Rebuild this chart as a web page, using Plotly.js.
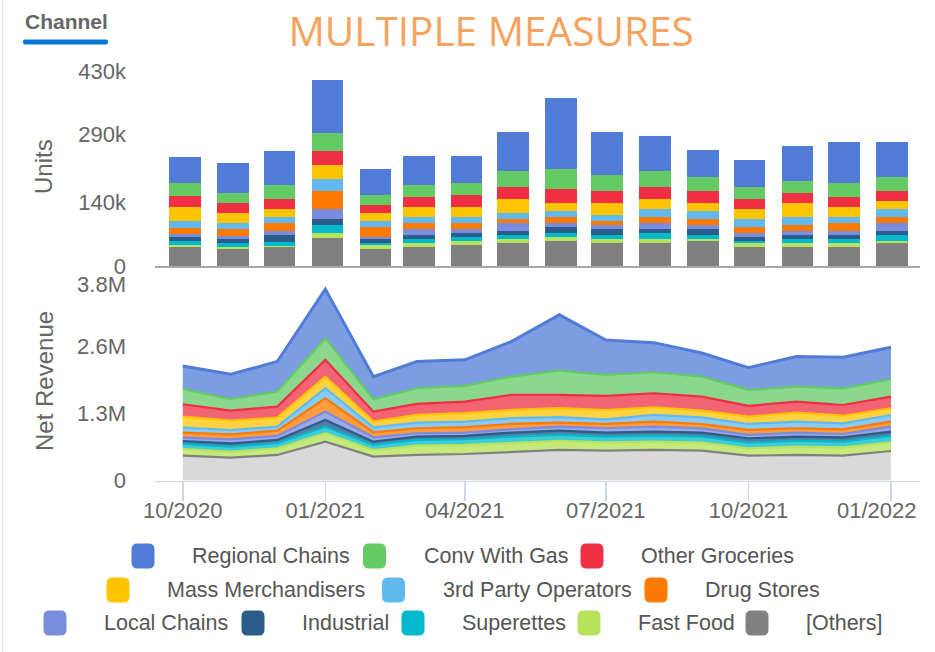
<!DOCTYPE html>
<html><head><meta charset="utf-8">
<script src="https://cdn.plot.ly/plotly-3.0.1.min.js"></script>
<style>html,body{margin:0;padding:0;background:#fff}#chart{width:935px;height:652px}</style>
</head><body><div id="chart"></div><script>
// ---------- DATA ----------
const months = ['2020-10-01','2020-11-01','2020-12-01','2021-01-01','2021-02-01','2021-03-01','2021-04-01','2021-05-01','2021-06-01','2021-07-01','2021-08-01','2021-09-01','2021-10-01','2021-11-01','2021-12-01','2022-01-01'];
const channels = ['Regional Chains','Conv With Gas','Other Groceries','Mass Merchandisers','3rd Party Operators','Drug Stores','Local Chains','Industrial','Superettes','Fast Food','[Others]'];

// Units by channel
const unitsRegionalChains = [57600,67200,76100,116000,58400,62800,58400,84200,155900,93800,76100,58400,58400,76100,89400,76100];
const unitsConvWithGas    = [27300,22200,31000,39100,22200,26600,26600,35500,44300,35500,35500,31000,26600,26600,31000,31000];
const unitsOtherGroceries = [25900,22200,22200,32500,17700,22200,26600,27300,31000,26600,26600,26600,22200,22200,22200,22200];
const unitsMassMerch      = [31000,22200,17700,30300,17700,22200,22200,31000,17700,26600,22200,17700,22200,31000,22200,17700];
const unitsThirdParty     = [13300,13300,13300,26600,12600,13300,13300,13300,13300,13300,17700,17700,17700,17700,13300,17700];
const unitsDrugStores     = [13300,13300,17700,39900,22900,13300,13300,8900,13300,8900,13300,13300,13300,13300,17700,13300];
const unitsLocalChains    = [7400,8100,8900,22200,4400,13300,8900,17700,8900,8900,13300,8900,8900,8900,8900,17700];
const unitsIndustrial     = [9600,8900,13300,13300,8100,8900,8900,8900,13300,13300,8900,13300,8900,8900,8900,8900];
const unitsSuperettes     = [8100,8900,8900,17700,5200,8900,8900,8900,8900,8900,13300,8900,4400,8900,8900,13300];
const unitsFastFood       = [4400,4400,3700,8900,8900,8900,8900,8900,8900,8900,8900,4400,8900,8900,8900,4400];
const unitsOthers         = [42100,36900,41400,62800,36900,41400,45800,50200,54700,50200,50200,54700,41400,41400,41400,50200];

// Net revenue by channel
const revRegionalChains = [446000,479000,582000,951000,438000,516000,504000,679000,1081000,679000,574000,460000,433000,582000,601000,621000];
const revConvWithGas    = [297000,227000,291000,421000,241000,305000,305000,355000,471000,407000,407000,388000,310000,291000,324000,338000];
const revOtherGroceries = [241000,194000,213000,324000,194000,213000,225000,291000,258000,272000,272000,272000,208000,213000,208000,225000];
const revMassMerch      = [213000,180000,175000,225000,109000,149000,163000,161000,175000,180000,149000,128000,142000,175000,147000,130000];
const revThirdParty     = [97000,83000,78000,194000,97000,109000,109000,111000,105000,91000,130000,130000,116000,128000,116000,130000];
const revDrugStores     = [97000,97000,103000,260000,97000,97000,105000,103000,78000,83000,97000,83000,97000,85000,91000,97000];
const revLocalChains    = [64000,78000,78000,161000,85000,66000,64000,66000,78000,85000,97000,85000,64000,78000,64000,97000];
const revIndustrial     = [58000,66000,64000,130000,64000,64000,64000,78000,83000,78000,83000,78000,85000,78000,85000,83000];
const revSuperettes     = [97000,97000,97000,128000,97000,111000,111000,116000,116000,109000,111000,116000,109000,116000,109000,122000];
const revFastFood       = [130000,116000,130000,163000,130000,180000,175000,175000,175000,163000,161000,155000,144000,161000,163000,169000];
const revOthers         = [481000,442000,495000,753000,462000,495000,514000,559000,592000,578000,592000,578000,481000,495000,481000,572000];

const unitTickVals = [0,140000,290000,430000];
const unitTickText = ['0','140k','290k','430k'];
const revTickVals  = [0,1300000,2600000,3800000];
const revTickText  = ['0','1.3M','2.6M','3.8M'];
const xTickDates   = ['2020-10-01','2021-01-01','2021-04-01','2021-07-01','2021-10-01','2022-01-01'];
const xTickLabels  = ['10/2020','01/2021','04/2021','07/2021','10/2021','01/2022'];

// ---------- STYLE ----------
const unitsSeries = [unitsRegionalChains,unitsConvWithGas,unitsOtherGroceries,unitsMassMerch,unitsThirdParty,unitsDrugStores,unitsLocalChains,unitsIndustrial,unitsSuperettes,unitsFastFood,unitsOthers];
const revSeries = [revRegionalChains,revConvWithGas,revOtherGroceries,revMassMerch,revThirdParty,revDrugStores,revLocalChains,revIndustrial,revSuperettes,revFastFood,revOthers];
const colors = ['#507CD8','#64CA64','#EE2F44','#FFC400','#62B9F0','#FF7A00','#7A8CDD','#2B5C8A','#00B9CC','#B6E35B','#808080'];
const fills  = ['rgba(80,124,216,0.75)','rgba(100,202,100,0.75)','rgba(238,47,68,0.75)','rgba(255,196,0,0.75)','rgba(98,185,240,0.75)','rgba(255,122,0,0.75)','rgba(122,140,221,0.75)','rgba(43,92,138,0.8)','rgba(0,185,204,0.75)','rgba(182,227,91,0.8)','#D9D9D9'];

const W = 935, H = 652;
const px = x => x / W, py = y => 1 - y / H;
const DAY = 86400000;

const traces = [];
for (let i = channels.length - 1; i >= 0; i--) {
  traces.push({
    type: 'bar', x: months, y: unitsSeries[i], name: channels[i],
    xaxis: 'x2', yaxis: 'y2', width: 20.5 * DAY,
    marker: {color: colors[i], line: {width: 0}}, showlegend: false, hoverinfo: 'skip'
  });
}
for (let i = channels.length - 1; i >= 0; i--) {
  traces.push({
    type: 'scatter', mode: 'lines', x: months, y: revSeries[i], name: channels[i],
    xaxis: 'x', yaxis: 'y', stackgroup: 'rev',
    line: {color: colors[i], width: i === 0 ? 3 : 2.2}, fillcolor: fills[i],
    showlegend: false, hoverinfo: 'skip'
  });
}

const tickFont = {family: 'Liberation Sans, Arial, sans-serif', size: 22, color: '#666666'};

// custom legend
const legendRows = [[0,1,2],[3,4,5],[6,7,8,9,10]];
const legendRowY = [556, 590, 623];
const legendMarkerX = [[143,374.5,592],[118,393.5,656],[55,253,413,589,757]];
const legendTextGap = 47;
function roundRect(cx, cy, w, h, r) {
  const x0 = cx - w/2, x1 = cx + w/2, y0 = cy - h/2, y1 = cy + h/2;
  const P = (x, y) => px(x).toFixed(5) + ',' + py(y).toFixed(5);
  return 'M' + P(x0+r,y0) + ' L' + P(x1-r,y0) + ' Q' + P(x1,y0) + ' ' + P(x1,y0+r) +
         ' L' + P(x1,y1-r) + ' Q' + P(x1,y1) + ' ' + P(x1-r,y1) +
         ' L' + P(x0+r,y1) + ' Q' + P(x0,y1) + ' ' + P(x0,y1-r) +
         ' L' + P(x0,y0+r) + ' Q' + P(x0,y0) + ' ' + P(x0+r,y0) + ' Z';
}
const shapes = [
  {type: 'line', xref: 'paper', yref: 'paper', x0: px(2.5), x1: px(2.5), y0: 0, y1: 1, line: {color: '#E3E3E3', width: 1.5}},
  {type: 'path', xref: 'paper', yref: 'paper', path: roundRect(65.5, 42, 85, 5, 2), fillcolor: '#0A78D8', line: {width: 0}}
];
const annotations = [
  {xref: 'paper', yref: 'paper', x: px(23), y: py(21), xanchor: 'left', yanchor: 'middle', showarrow: false,
   text: '<b>Channel</b>', font: {family: 'Liberation Sans, Arial, sans-serif', size: 21, color: '#666666'}},
  {xref: 'paper', yref: 'paper', x: px(44), y: py(167), xanchor: 'center', yanchor: 'middle', showarrow: false, textangle: -90,
   text: 'Units', font: {family: 'Liberation Sans, Arial, sans-serif', size: 24, color: '#666666'}},
  {xref: 'paper', yref: 'paper', x: px(44), y: py(381), xanchor: 'center', yanchor: 'middle', showarrow: false, textangle: -90,
   text: 'Net Revenue', font: {family: 'Liberation Sans, Arial, sans-serif', size: 24, color: '#666666'}},
  {xref: 'paper', yref: 'paper', x: px(877), y: py(510), xanchor: 'center', yanchor: 'middle', showarrow: false,
   text: xTickLabels[xTickLabels.length - 1], font: tickFont}
];
legendRows.forEach((row, r) => {
  row.forEach((ci, k) => {
    const cx = legendMarkerX[r][k], cy = legendRowY[r];
    shapes.push({type: 'path', xref: 'paper', yref: 'paper', path: roundRect(cx, cy, 23, 25, 6), fillcolor: colors[ci], line: {width: 0}});
    annotations.push({xref: 'paper', yref: 'paper', x: px(cx + legendTextGap), y: py(cy), xanchor: 'left', yanchor: 'middle',
      showarrow: false, text: channels[ci], font: {family: 'Liberation Sans, Arial, sans-serif', size: 21.5, color: '#555555'}});
  });
});

const layout = {
  width: W, height: H, margin: {l: 0, r: 0, t: 0, b: 0},
  paper_bgcolor: '#ffffff', plot_bgcolor: '#ffffff',
  barmode: 'stack', hovermode: false, showlegend: false,
  title: {text: 'MULTIPLE MEASURES', font: {family: 'Open Sans, sans-serif', size: 40.5, color: '#F6A35F'},
          x: 491 / W, xanchor: 'center', y: py(32), yanchor: 'middle'},
  xaxis2: {type: 'date', domain: [px(155), px(920)], anchor: 'y2',
           range: ['2020-09-11 12:00', '2022-01-19 05:00'],
           showticklabels: false, ticks: '', showgrid: false, zeroline: false,
           showline: true, linecolor: '#A8A8A8', linewidth: 2, fixedrange: true},
  yaxis2: {domain: [py(266), py(71)], anchor: 'x2', range: [0, 430000],
           tickmode: 'array', tickvals: unitTickVals, ticktext: unitTickText,
           showgrid: false, zeroline: false, showline: false, ticks: '', tickfont: tickFont,
           ticklabelstandoff: 28, automargin: false, fixedrange: true},
  xaxis: {type: 'date', domain: [px(155), px(920)], anchor: 'y',
          range: ['2020-09-13 02:00', '2022-01-19 17:00'],
          tickmode: 'array', tickvals: xTickDates,
          ticktext: xTickLabels.map((t, i) => i === xTickLabels.length - 1 ? '' : t),
          ticks: 'outside', ticklen: 19, tickcolor: '#CCD6EB', tickwidth: 1.5,
          ticklabelstandoff: -9,
          showgrid: false, zeroline: false, showline: true, linecolor: '#CCD6EB', linewidth: 1.5,
          tickfont: tickFont, automargin: false, fixedrange: true},
  yaxis: {domain: [py(480.5), py(284.5)], anchor: 'x', range: [0, 3800000],
          tickmode: 'array', tickvals: revTickVals, ticktext: revTickText,
          showgrid: false, zeroline: false, showline: false, ticks: '', tickfont: tickFont,
          ticklabelstandoff: 28, automargin: false, fixedrange: true},
  shapes: shapes, annotations: annotations
};

Plotly.newPlot('chart', traces, layout, {displayModeBar: false, staticPlot: true});
</script></body></html>
